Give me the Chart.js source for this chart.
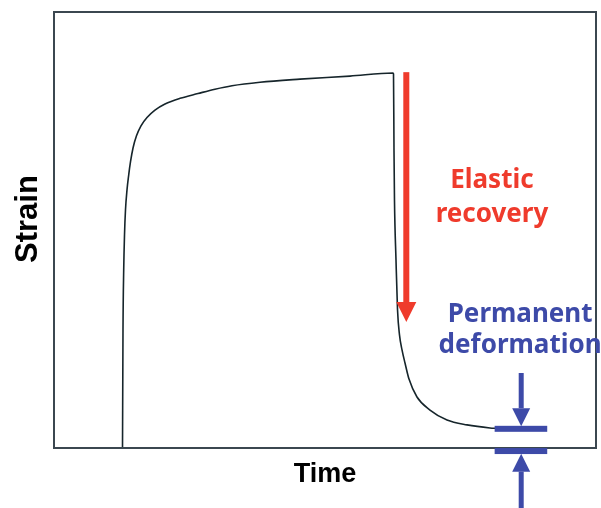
<!DOCTYPE html>
<html>
<head>
<meta charset="utf-8">
<script src="https://cdn.jsdelivr.net/npm/chart.js@4.4.1/dist/chart.umd.min.js"></script>
<style>
  html, body { margin: 0; padding: 0; background: #ffffff; }
  #wrap { width: 601px; height: 508px; }
</style>
</head>
<body>
<div id="wrap"><canvas id="creepChart" width="601" height="508"></canvas></div>
<script>
// Creep / recovery curve (time 0-100, strain 0-100)
const timeVals = [
  12.64, 12.73, 12.86, 13.01, 13.19, 13.47, 13.78, 14.11, 14.58, 15.22,
  16.05, 17.16, 18.63, 20.48, 23.25, 26.57, 29.7, 32.84, 38.01, 45.39,
  54.61, 62.55,
  62.64, 62.73, 62.82, 63.1, 63.38, 63.75, 64.21, 64.76, 65.5, 66.97,
  69.37, 72.51, 76.2, 80.44, 81.73
];
const strainVals = [
  0, 27.1, 40.8, 48.9, 54.6, 59.2, 62.6, 65.6, 68.8, 71.6,
  73.9, 75.8, 77.5, 78.9, 80.2, 81.3, 82.3, 83.1, 83.9, 84.6,
  85.3, 86.0,
  85.8, 68.3, 56.9, 43.1, 31.7, 25.9, 22.5, 19.5, 15.8, 11.7,
  8.7, 6.4, 5.3, 4.6, 4.5
];

const axisTitles = ['Time', 'Strain'];
const recoveryLabel = ['Elastic', 'recovery'];
const permanentLabel = ['Permanent', 'deformation'];

// annotation anchors in data units
const recoveryArrow = { t: 65.0, from: 86.2, to: 28.9 };
const recoveryText = { t: 80.8, lines: [59.6, 51.8] };
const permBars = { t0: 81.3, t1: 91.0, upper: 4.4, lower: -0.7 };
const permArrows = { t: 86.2, upperFrom: 17.2, upperTo: 5.0, lowerFrom: -14.5, lowerTo: -1.3 };
const permText = { t: 86.0, lines: [28.9, 21.8] };

const RED = '#ef3b2c';
const BLUE = '#3d4aa8';

const points = timeVals.map((t, i) => ({ x: t, y: strainVals[i] }));

function drawArrow(ctx, x, yFrom, yTo, color, shaftW, headLen, headW) {
  const dir = yTo > yFrom ? 1 : -1;
  const base = yTo - dir * headLen;
  ctx.save();
  ctx.fillStyle = color;
  ctx.fillRect(x - shaftW / 2, Math.min(yFrom, base), shaftW, Math.abs(base - yFrom));
  ctx.beginPath();
  ctx.moveTo(x - headW / 2, base);
  ctx.lineTo(x + headW / 2, base);
  ctx.lineTo(x, yTo);
  ctx.closePath();
  ctx.fill();
  ctx.restore();
}

const annotations = {
  id: 'annotations',
  afterDraw(chart) {
    const { ctx, chartArea, scales } = chart;
    const xs = scales.x, ys = scales.y;

    // frame around the plot
    ctx.save();
    ctx.strokeStyle = '#3b4750';
    ctx.lineWidth = 2;
    ctx.strokeRect(chartArea.left, chartArea.top, chartArea.right - chartArea.left, chartArea.bottom - chartArea.top);
    ctx.restore();

    // y title
    ctx.save();
    ctx.translate(28, ys.getPixelForValue(52.5));
    ctx.rotate(-Math.PI / 2);
    ctx.font = 'bold 31px "Liberation Sans", Arial, sans-serif';
    ctx.fillStyle = '#000000';
    ctx.textAlign = 'center';
    ctx.textBaseline = 'middle';
    ctx.fillText(axisTitles[1], 0, 0);
    ctx.restore();

    // elastic recovery
    drawArrow(ctx, xs.getPixelForValue(recoveryArrow.t), ys.getPixelForValue(recoveryArrow.from),
      ys.getPixelForValue(recoveryArrow.to), RED, 6, 20, 20);

    ctx.save();
    ctx.font = 'bold 26px "Noto Sans", sans-serif';
    ctx.textAlign = 'center';
    ctx.textBaseline = 'alphabetic';
    ctx.fillStyle = RED;
    recoveryLabel.forEach((txt, i) => {
      ctx.fillText(txt, xs.getPixelForValue(recoveryText.t), ys.getPixelForValue(recoveryText.lines[i]));
    });
    ctx.fillStyle = BLUE;
    permanentLabel.forEach((txt, i) => {
      ctx.fillText(txt, xs.getPixelForValue(permText.t), ys.getPixelForValue(permText.lines[i]));
    });
    ctx.restore();

    // permanent deformation markers
    const bx0 = xs.getPixelForValue(permBars.t0);
    const bx1 = xs.getPixelForValue(permBars.t1);
    ctx.save();
    ctx.fillStyle = BLUE;
    [permBars.upper, permBars.lower].forEach(v => {
      const py = ys.getPixelForValue(v);
      ctx.fillRect(bx0, py - 3, bx1 - bx0, 6);
    });
    ctx.restore();
    const ax = xs.getPixelForValue(permArrows.t);
    drawArrow(ctx, ax, ys.getPixelForValue(permArrows.upperFrom), ys.getPixelForValue(permArrows.upperTo), BLUE, 5, 18, 18);
    drawArrow(ctx, ax, ys.getPixelForValue(permArrows.lowerFrom), ys.getPixelForValue(permArrows.lowerTo), BLUE, 5, 18, 18);
  }
};

new Chart(document.getElementById('creepChart'), {
  type: 'line',
  data: {
    datasets: [{
      data: points,
      borderColor: '#16252b',
      borderWidth: 1.6,
      pointRadius: 0,
      fill: false,
      cubicInterpolationMode: 'monotone'
    }]
  },
  options: {
    responsive: false,
    animation: false,
    devicePixelRatio: 1,
    layout: { padding: { top: 12, right: 5, left: 0, bottom: 0 } },
    plugins: { legend: { display: false }, tooltip: { enabled: false } },
    scales: {
      x: {
        type: 'linear',
        min: 0,
        max: 100,
        ticks: { display: false },
        grid: { display: false },
        border: { display: false },
        title: {
          display: true,
          text: axisTitles[0],
          color: '#000000',
          font: { family: '"Liberation Sans", Arial, sans-serif', size: 27, weight: 'bold' },
          padding: { top: 0, bottom: 17 }
        },
        afterFit(scale) { scale.height = 60; }
      },
      y: {
        type: 'linear',
        min: 0,
        max: 100,
        ticks: { display: false },
        grid: { display: false },
        border: { display: false },
        afterFit(scale) { scale.width = 54; }
      }
    }
  },
  plugins: [annotations]
});
</script>
</body>
</html>
